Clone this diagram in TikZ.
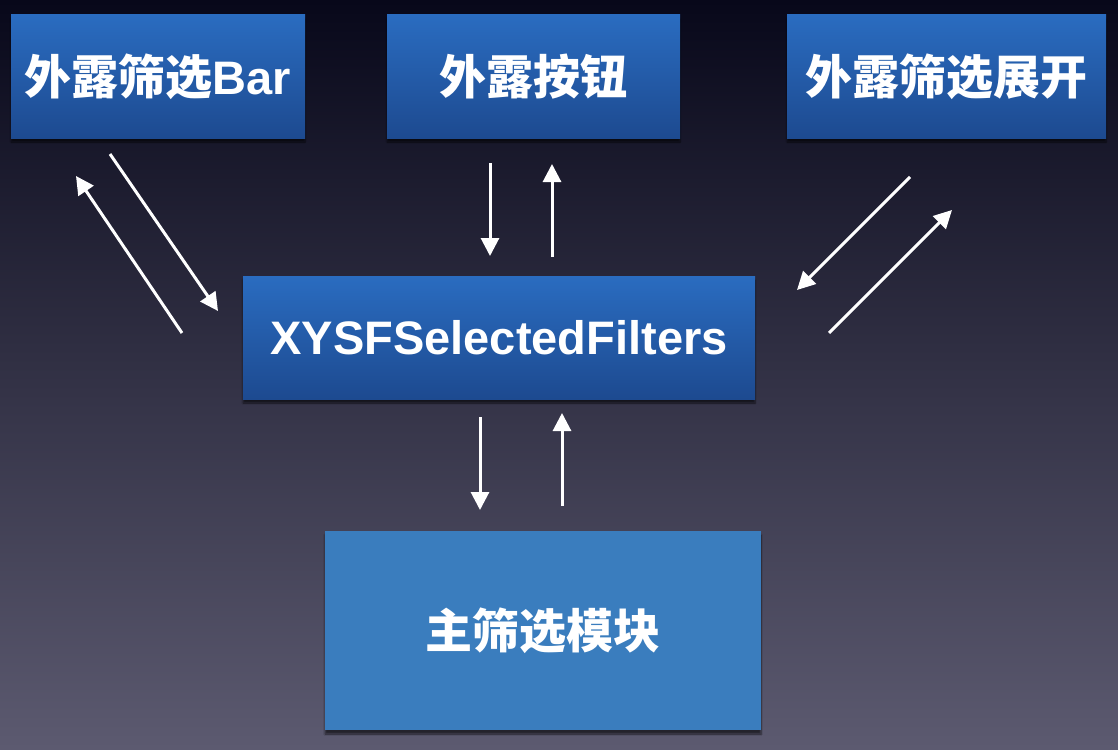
\documentclass[tikz,border=0pt]{standalone}
\usepackage{fontspec}
\newfontfamily\cjk{Noto Sans CJK SC}
\newfontfamily\lat{Liberation Sans}
\usetikzlibrary{arrows.meta,shadows.blur}
\definecolor{bgtop}{HTML}{08081A}
\definecolor{bgbot}{HTML}{5C5A70}
\definecolor{boxtop}{HTML}{2A6CC0}
\definecolor{boxbot}{HTML}{1D4A90}
\definecolor{mainbox}{HTML}{3A7DBE}
\tikzset{
  topbox/.style={rectangle, inner sep=0pt, top color=boxtop, bottom color=boxbot,
    text=white, font=\bfseries\fontsize{47}{52}\selectfont,
    blur shadow={shadow xshift=0pt, shadow yshift=-4pt, shadow blur steps=6, shadow opacity=60}},
  mainstyle/.style={rectangle, inner sep=0pt, fill=mainbox,
    text=white, font=\bfseries\fontsize{47}{52}\selectfont,
    blur shadow={shadow xshift=0pt, shadow yshift=-4pt, shadow blur steps=6, shadow opacity=60}},
  arr/.style={draw=white, line width=3pt, -{Triangle[length=18pt,width=18pt]}}
}
\begin{document}
\begin{tikzpicture}[x=1pt,y=-1pt]
\shade[top color=bgtop, bottom color=bgbot] (0,0) rectangle (1118,749);
\useasboundingbox (0,0) rectangle (1118,749);
\node[topbox, minimum width=294pt, minimum height=123pt] (bar) at (158,76.5) {\cjk 外露筛选\lat Bar};
\node[topbox, minimum width=293pt, minimum height=123pt] (btn) at (533.5,76.5) {\cjk 外露按钮};
\node[topbox, minimum width=319pt, minimum height=123pt] (exp) at (946.5,76.5) {\cjk 外露筛选展开};
\node[topbox, minimum width=512pt, minimum height=123pt] (sel) at (499,337.5) {\lat XYSFSelectedFilters};
\node[mainstyle, minimum width=436pt, minimum height=199pt] (main) at (543,630.5) {\cjk 主筛选模块};
% connector end points
\coordinate (a1s) at (110,154); \coordinate (a1e) at (218,311);
\coordinate (a2s) at (182,333); \coordinate (a2e) at (76,176);
\coordinate (b1s) at (490,163); \coordinate (b1e) at (490,256);
\coordinate (b2s) at (552,257); \coordinate (b2e) at (552,164);
\coordinate (c1s) at (910,177); \coordinate (c1e) at (797,290);
\coordinate (c2s) at (829,333); \coordinate (c2e) at (952,210);
\coordinate (d1s) at (480,417); \coordinate (d1e) at (480,510);
\coordinate (d2s) at (562,506); \coordinate (d2e) at (562,413);
\draw[arr] (a1s) -- (a1e);
\draw[arr] (a2s) -- (a2e);
\draw[arr] (b1s) -- (b1e);
\draw[arr] (b2s) -- (b2e);
\draw[arr] (c1s) -- (c1e);
\draw[arr] (c2s) -- (c2e);
\draw[arr] (d1s) -- (d1e);
\draw[arr] (d2s) -- (d2e);
\end{tikzpicture}
\end{document}
